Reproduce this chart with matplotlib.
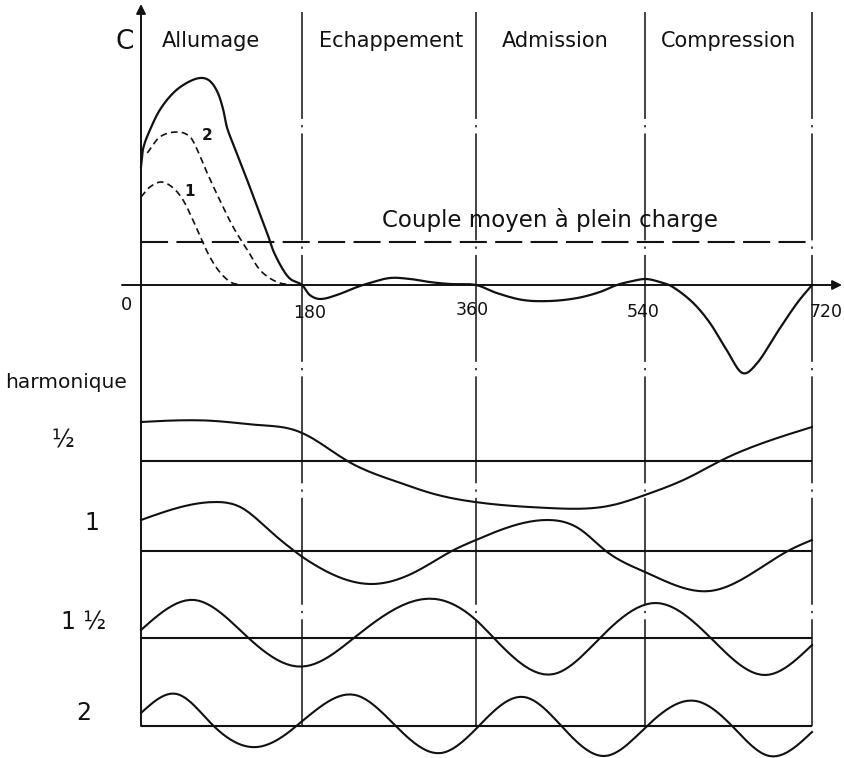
import numpy as np
import matplotlib
matplotlib.use("Agg")
import matplotlib.pyplot as plt

# couple moteur sur un cycle (angle vilebrequin en degres, couple)
angle_c = [0, 2, 10, 21, 36, 51, 66, 77, 86, 92, 96, 103, 114, 125, 141, 148,
           159, 167, 180, 188, 199, 216, 237, 250, 271, 292, 312, 333, 360,
           382, 410, 439, 468, 492, 510, 527, 541, 556, 570, 592, 610, 628,
           645, 661, 682, 704, 720]
couple = [118, 135, 155, 175, 192, 202, 207, 204, 192, 175, 158, 141, 116, 90,
          52, 34, 15, 6, 0, -10, -14, -10, -2, 2, 7, 6, 3, 1, 0,
          -8, -15, -16, -13, -7, 0, 4, 6, 3, -2, -18, -38, -65,
          -88, -78, -48, -18, 0]

# courbes en pointilles 1 et 2 (charges partielles)
angle_2 = [7, 21, 41, 55, 63, 74, 88, 103, 119, 133, 152, 170]
couple_2 = [132, 148, 153, 148, 135, 112, 85, 58, 35, 15, 3, 0]
angle_1 = [0, 10, 23, 36, 47, 58, 68, 77, 88, 100, 111]
couple_1 = [88, 98, 103, 97, 85, 65, 45, 28, 13, 3, 0]
couple_moyen = 43

# harmoniques
ang_h05 = [0, 83, 131, 180, 227, 279, 313, 359, 437, 506, 540, 586, 621, 667, 720]
h05 = [39, 40, 36, 28, 0, -21, -32, -41, -47, -44, -34, -17, 0, 18, 34]
ang_h1 = [0, 83, 113, 143, 170, 182, 251, 301, 335, 360, 437, 472, 497, 540,
          610, 656, 696, 720]
h1 = [31, 49, 43, 21, 1, -7, -33, -19, 0, 11, 31, 21, 1, -21, -40, -22, 1, 11]
ang_h15 = [0, 60, 119, 185, 235, 318, 360, 379, 443, 491, 552, 612, 670, 720]
h15 = [8, 38, 1, -28, 1, 39, 18, 0, -36, -1, 35, -1, -37, -7]
ang_h2 = [0, 40, 79, 130, 179, 235, 276, 324, 362, 411, 452, 497, 540, 595,
          636, 674, 720]
h2 = [13, 32, 2, -21, 4, 31, 1, -27, -1, 29, -1, -30, -2, 25, -2, -30, -6]

harmoniques = [(ang_h05, h05), (ang_h1, h1), (ang_h15, h15), (ang_h2, h2)]
noms_h = ["½", "1", "1 ½", "2"]
phases = ["Allumage", "Echappement", "Admission", "Compression"]
graduations = [180, 360, 540, 720]

# mise en page (pixels)
y0 = 285
bases_h = [461, 551, 638, 726]
kx_deg = [-400, 0, 180, 360, 540, 720, 1100]
kx_px = [141 - 400 * 0.9, 141, 302, 476, 645, 812, 812 + 380 * 0.93]


def fwd(d):
    return np.interp(d, kx_deg, kx_px)


def inv(p):
    return np.interp(p, kx_px, kx_deg)


def hermite(xs, ys, n=12):
    # trace lisse entre les points lus (pentes type catmull-rom)
    x = np.asarray(xs, float)
    y = np.asarray(ys, float)
    m = np.empty_like(y)
    m[1:-1] = (y[2:] - y[:-2]) / (x[2:] - x[:-2])
    m[0] = (y[1] - y[0]) / (x[1] - x[0])
    m[-1] = (y[-1] - y[-2]) / (x[-1] - x[-2])
    t = np.linspace(0, 1, n, endpoint=False)
    xx, yy = [], []
    for i in range(len(x) - 1):
        h = x[i + 1] - x[i]
        yy.append((2 * t**3 - 3 * t**2 + 1) * y[i] + (t**3 - 2 * t**2 + t) * h * m[i]
                  + (-2 * t**3 + 3 * t**2) * y[i + 1] + (t**3 - t**2) * h * m[i + 1])
        xx.append(x[i] + t * h)
    return np.append(np.concatenate(xx), x[-1]), np.append(np.concatenate(yy), y[-1])


def spline(xs, ys, n=12):
    # spline cubique naturelle
    x = np.asarray(xs, float)
    y = np.asarray(ys, float)
    k = len(x)
    h = np.diff(x)
    A = np.zeros((k, k))
    r = np.zeros(k)
    A[0, 0] = A[-1, -1] = 1
    for i in range(1, k - 1):
        A[i, i - 1] = h[i - 1]
        A[i, i] = 2 * (h[i - 1] + h[i])
        A[i, i + 1] = h[i]
        r[i] = 6 * ((y[i + 1] - y[i]) / h[i] - (y[i] - y[i - 1]) / h[i - 1])
    M = np.linalg.solve(A, r)
    t = np.linspace(0, 1, n, endpoint=False)
    xx, yy = [], []
    for i in range(k - 1):
        xa = x[i] + t * h[i]
        a = x[i + 1] - xa
        b = xa - x[i]
        yy.append(M[i] * a**3 / (6 * h[i]) + M[i + 1] * b**3 / (6 * h[i])
                  + (y[i] / h[i] - M[i] * h[i] / 6) * a
                  + (y[i + 1] / h[i] - M[i + 1] * h[i] / 6) * b)
        xx.append(xa)
    return np.append(np.concatenate(xx), x[-1]), np.append(np.concatenate(yy), y[-1])


plt.rcParams['font.family'] = ['DejaVu Sans']
fig = plt.figure(figsize=(8.44, 7.58), dpi=100)
ax = fig.add_axes([0, 0, 1, 1])
ax.set_xscale('function', functions=(fwd, inv))
ax.set_xlim(inv(0), inv(844))
ax.set_ylim(758, 0)
ax.axis('off')

noir = '#111111'
tiret_point = (0, (70, 4, 1.5, 4))

# axes
ax.annotate('', xy=(0, 4), xytext=(0, 726),
            arrowprops=dict(arrowstyle='-|>', color=noir, lw=1.4,
                            mutation_scale=14, shrinkA=0, shrinkB=0))
ax.annotate('', xy=(inv(842), y0), xytext=(inv(122), y0),
            arrowprops=dict(arrowstyle='-|>', color=noir, lw=1.4,
                            mutation_scale=14, shrinkA=0, shrinkB=0))
ax.vlines(graduations, 12, 729, colors=noir, lw=1.1, linestyles=[tiret_point])

# couple moyen
ax.hlines(y0 - couple_moyen, 0, 720, colors=noir, lw=1.5,
          linestyles=[(0, (13, 4))])

# couple instantane
x, y = hermite(angle_c, couple)
ax.plot(x, y0 - y, color=noir, lw=1.6)
x, y = hermite(angle_2, couple_2)
ax.plot(x, y0 - y, color=noir, lw=1.2, ls=(0, (4, 2.5)))
x, y = hermite(angle_1, couple_1)
ax.plot(x, y0 - y, color=noir, lw=1.2, ls=(0, (4, 2.5)))

# harmoniques
for (a, h), b in zip(harmoniques, bases_h):
    ax.hlines(b, 0, 720, colors=noir, lw=1.5)
    x, y = spline(a, h)
    ax.plot(x, b - y, color=noir, lw=1.5)

# textes
txt = dict(color=noir, ha='center', va='center')
ax.text(inv(125), 42, "C", fontsize=19, **txt)
for nom, px in zip(phases, [211, 391, 555, 728]):
    ax.text(inv(px), 41, nom, fontsize=15, **txt)
ax.text(inv(550), 220, "Couple moyen à plein charge", fontsize=16.5, **txt)
ax.text(inv(207), 136, "2", fontsize=11, fontweight='bold', **txt)
ax.text(inv(190), 191, "1", fontsize=11, fontweight='bold', **txt)
ax.text(inv(127), 305, "0", fontsize=13, **txt)
for g, px, py in zip(graduations, [310, 472, 643, 826], [313, 310, 312, 312]):
    ax.text(inv(px), py, str(g), fontsize=12.5, **txt)
ax.text(inv(66), 383, "harmonique", fontsize=14.5, **txt)
for nom, px, py in zip(noms_h, [63, 92, 84, 84], [440, 523, 622, 713]):
    ax.text(inv(px), py, nom, fontsize=17, **txt)

fig.savefig("out.png", dpi=100, facecolor='white')
